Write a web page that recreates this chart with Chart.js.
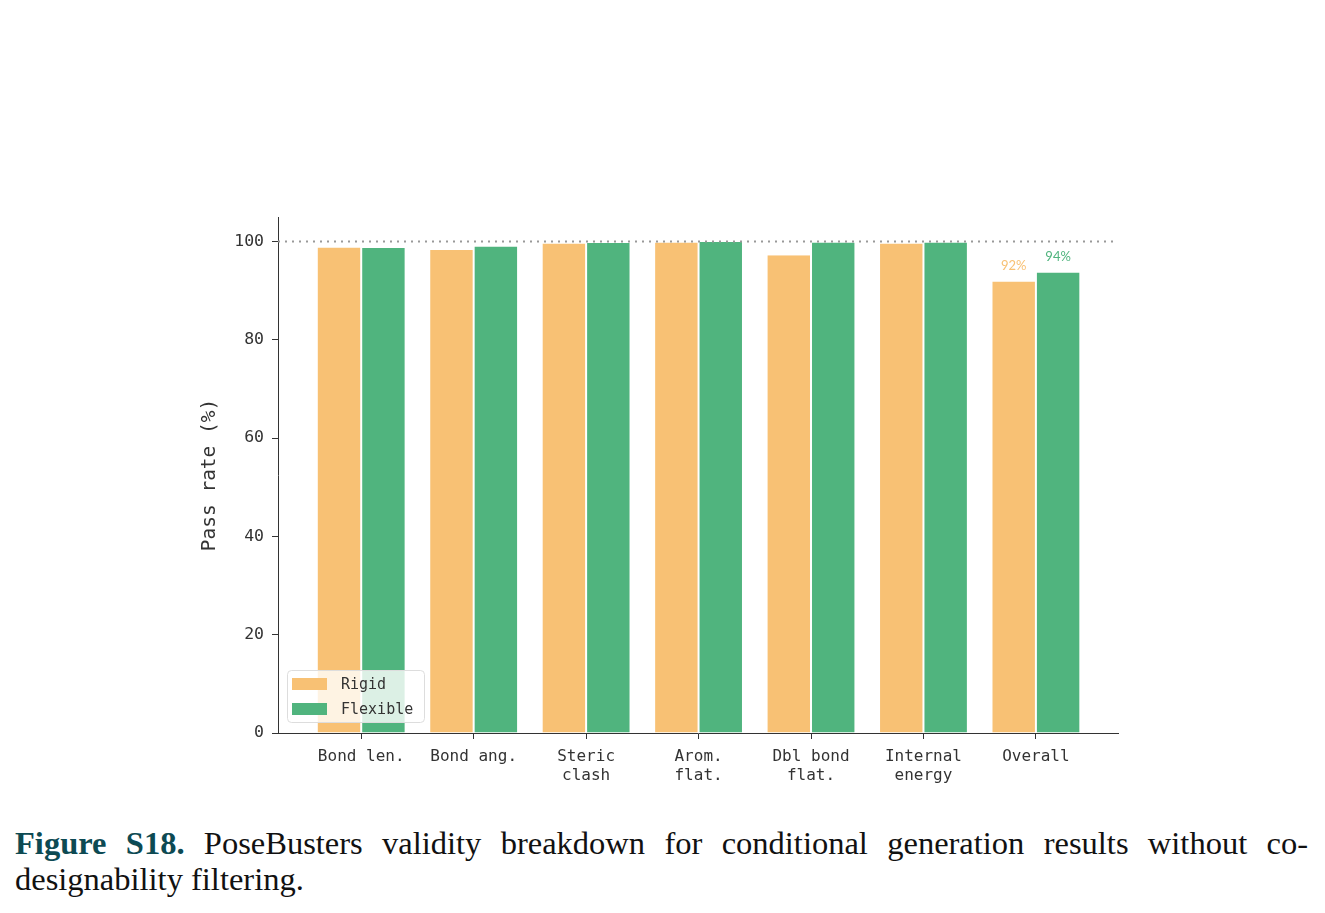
<!DOCTYPE html>
<html>
<head>
<meta charset="utf-8">
<script src="https://cdn.jsdelivr.net/npm/chart.js@4.4.1/dist/chart.umd.min.js"></script>
<style>
  html, body { margin:0; padding:0; background:#fff; }
  body { width:1325px; height:913px; position:relative; overflow:hidden; }
  #wrap { position:absolute; left:0; top:0; width:1325px; height:800px; }
  .cap { position:absolute; left:15px; width:1293px; font-family:"Liberation Serif", serif; font-size:32.5px; color:#111; line-height:36px; }
  .cap b { color:#0d4a53; }
  #cap1 { top:825px; text-align:justify; text-align-last:justify; }
  #cap2 { top:861px; }
</style>
</head>
<body>
<div id="wrap"><canvas id="chart"></canvas></div>
<div class="cap" id="cap1"><b>Figure S18.</b> PoseBusters validity breakdown for conditional generation results without co-</div>
<div class="cap" id="cap2">designability filtering.</div>
<script>
const kategori = [['Bond len.'], ['Bond ang.'], ['Steric','clash'], ['Arom.','flat.'], ['Dbl bond','flat.'], ['Internal','energy'], ['Overall']];
const rigid    = [98.8, 98.3, 99.6, 99.8, 97.2, 99.6, 91.9];
const flexible = [98.7, 99.0, 99.7, 99.9, 99.8, 99.8, 93.7];
const yTicks   = [0, 20, 40, 60, 80, 100];
const labelOverall = ['92%', '94%'];

const warnaRigid = '#f8c174';
const warnaFlex  = '#50b47e';
const mono = '"DejaVu Sans Mono", monospace';

// garis titik di 100%
const garis100 = {
    id:'garis100',
    afterDatasetsDraw(c){
        const {ctx, chartArea, scales} = c;
        const y = scales.y.getPixelForValue(100);
        ctx.save();
        ctx.strokeStyle = '#999';
        ctx.lineWidth = 2;
        ctx.setLineDash([2,5]);
        ctx.beginPath();
        ctx.moveTo(chartArea.left, y);
        ctx.lineTo(chartArea.right, y);
        ctx.stroke();
        ctx.restore();

        // label nilai Overall
        const last = kategori.length - 1;
        ctx.save();
        ctx.font = '13px Lato, sans-serif';
        ctx.textAlign = 'center';
        ctx.textBaseline = 'bottom';
        [0,1].forEach(di=>{
            const bar = c.getDatasetMeta(di).data[last];
            ctx.fillStyle = di === 0 ? warnaRigid : warnaFlex;
            ctx.fillText(labelOverall[di], bar.x, bar.y - 9);
        });
        ctx.restore();
    },
    afterDraw(c){
        // legend di dalam plot
        const {ctx, chartArea} = c;
        const x0 = chartArea.left + 9, y0 = chartArea.bottom - 63;
        ctx.save();
        ctx.fillStyle = 'rgba(255,255,255,0.8)';
        ctx.strokeStyle = '#ddd';
        ctx.lineWidth = 1;
        ctx.beginPath();
        ctx.roundRect(x0 + 0.5, y0 + 0.5, 137, 52, 4);
        ctx.fill();
        ctx.stroke();
        const items = [['Rigid', warnaRigid], ['Flexible', warnaFlex]];
        ctx.font = '15px ' + mono;
        ctx.textBaseline = 'middle';
        items.forEach((it, i)=>{
            const cy = y0 + 14 + i * 25;
            ctx.fillStyle = it[1];
            ctx.fillRect(x0 + 5, cy - 6, 35, 12);
            ctx.fillStyle = '#333';
            ctx.fillText(it[0], x0 + 54, cy + 1);
        });
        ctx.restore();
    }
};

new Chart(document.getElementById('chart'), {
    type:'bar',
    data:{
        datasets:[
            { label:'Rigid', data:rigid.map((v,i)=>({x:i, y:v})), backgroundColor:warnaRigid, borderColor:'#fff', borderWidth:{left:1,right:1}, borderSkipped:false },
            { label:'Flexible', data:flexible.map((v,i)=>({x:i, y:v})), backgroundColor:warnaFlex, borderColor:'#fff', borderWidth:{left:1,right:1}, borderSkipped:false }
        ]
    },
    options:{
        responsive:true,
        maintainAspectRatio:false,
        animation:false,
        categoryPercentage:0.79,
        barPercentage:1.0,
        layout:{ padding:{ left:178, right:207, top:217, bottom:7 } },
        plugins:{ legend:{display:false}, tooltip:{enabled:false} },
        scales:{
            x:{
                type:'linear',
                offset:false,
                min:-0.74, max:6.73,
                afterBuildTicks: s => { s.ticks = kategori.map((k,i)=>({value:i})); },
                afterFit: s => { s.height = 60; },
                grid:{ offset:false, drawOnChartArea:false, drawTicks:true, tickLength:6, color:'#333' },
                border:{ display:true, color:'#333', width:1 },
                ticks:{
                    autoSkip:false, maxRotation:0, padding:8,
                    color:'#333',
                    font:{ family:mono, size:16, lineHeight:1.2 },
                    callback: v => kategori[v]
                }
            },
            y:{
                min:0, max:105,
                afterBuildTicks: s => { s.ticks = yTicks.map(v=>({value:v})); },
                afterFit: s => { s.width = 100; },
                grid:{ drawOnChartArea:false, drawTicks:true, tickLength:6, color:'#333' },
                border:{ display:true, color:'#333', width:1 },
                ticks:{ color:'#333', padding:8, font:{ family:mono, size:16.5 } },
                title:{ display:true, text:'Pass rate (%)', color:'#333', font:{ family:mono, size:19.5 }, padding:{top:20, bottom:0} }
            }
        }
    },
    plugins:[garis100]
});
</script>
</body>
</html>
